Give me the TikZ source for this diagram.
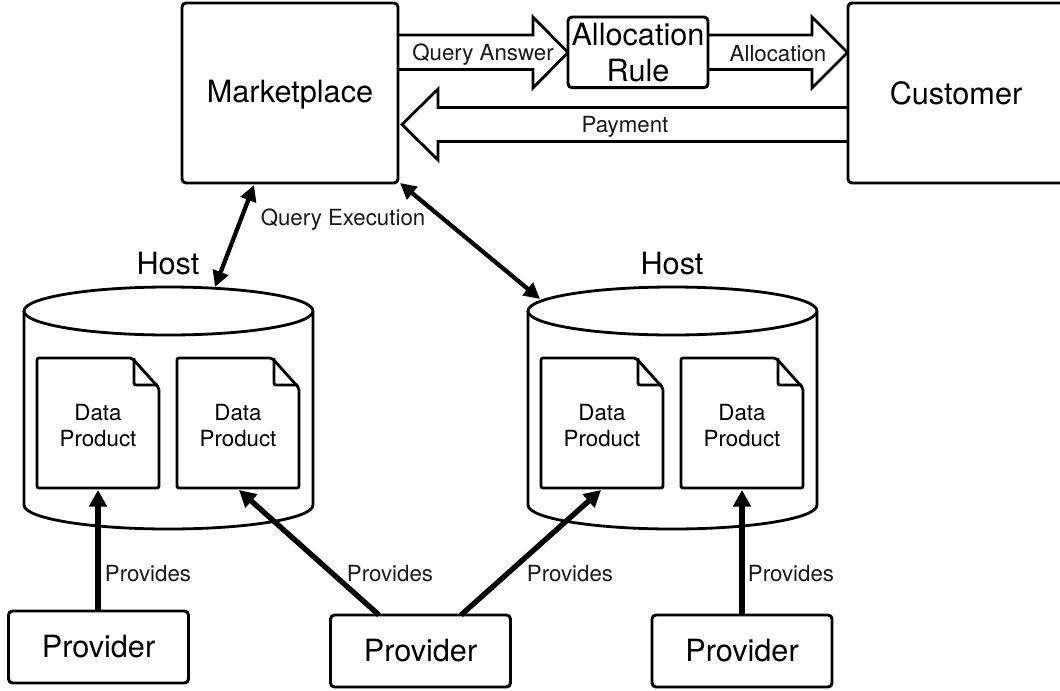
\documentclass[tikz,border=0pt]{standalone}
\usepackage{fontspec}
\setmainfont{TeX Gyre Heros}
\usetikzlibrary{arrows.meta,calc}
\tikzset{
  x=0.75pt,y=-0.75pt,
  line join=round,
  boxy/.style={draw=black,line width=2.2pt,rounded corners=3pt,fill=white,inner sep=0pt,outer sep=0pt,align=center,anchor=north west},
  lab/.style={font=\fontsize{16.7}{20}\selectfont,inner sep=0pt,text=black!90},
  big/.style={font=\fontsize{23}{27}\selectfont,inner sep=0pt},
  doclab/.style={font=\fontsize{16.7}{19.5}\selectfont,inner sep=0pt,align=center},
  blockarrow/.style={draw=black,line width=2.1pt,fill=white,miter limit=10},
  heavy/.style={line width=4pt,-{Triangle[length=12.5pt,width=13pt]}},
  medium/.style={line width=3.2pt,{Triangle[length=12pt,width=12pt]}-{Triangle[length=12pt,width=12pt]}},
  cyl/.style={draw=black,line width=2.1pt,fill=white},
  docpath/.style={draw=black,line width=2.1pt,fill=white},
}
\newcommand{\hostcyl}[2]{%
  \draw[cyl] (#1,311) -- (#1,505) arc[x radius=144.5,y radius=24,start angle=180,end angle=0] -- (#1+289,311);
  \draw[cyl] (#1+144.5,311) ellipse[x radius=144.5,y radius=24];
  \coordinate (#2) at (#1+144.5,311);
}
\newcommand{\docshape}[2]{%
  \draw[docpath,rounded corners=1.5pt] (#1,358) -- (#1+95,358) -- (#1+122,388) -- (#1+122,488) -- (#1,488) -- cycle;
  \draw[docpath,fill=none,rounded corners=1.5pt] (#1+97,358) -- (#1+97,385) -- (#1+121,385);
  \node[doclab] (#2) at (#1+61,426) {Data\\Product};
}
\begin{document}
\begin{tikzpicture}
\useasboundingbox (0,0) rectangle (1060,690);
% block arrows
\draw[blockarrow] (397.5,35) -- (533,35) -- (533,17) -- (568,52.5) -- (533,88) -- (533,69.5) -- (397.5,69.5);
\draw[blockarrow] (708,35) -- (812,35) -- (812,17) -- (847.5,52.5) -- (812,88) -- (812,69.5) -- (708,69.5);
\draw[blockarrow] (848,107.5) -- (438,107.5) -- (438,89) -- (402,124.5) -- (438,160) -- (438,141.5) -- (848,141.5);
% top boxes
\node[boxy,minimum width=162pt,minimum height=135pt] (market) at (182,3) {};
\node[big] (marketlab) at (290,95) {Marketplace};
\draw[draw=black,line width=2.2pt,rounded corners=3pt,fill=white] (1064,3) -- (848,3) -- (848,183) -- (1064,183);
\node[big] (custlab) at (956,93) {Customer};
\node[boxy,minimum width=105pt,minimum height=53pt] (rule) at (568,17) {};
\node[big,align=center] (rulelab) at (638,52.5) {Allocation\\Rule};
\node[lab] (qa) at (483,55) {Query Answer};
\node[lab] (al) at (778,54) {Allocation};
\node[lab] (pay) at (625,127) {Payment};
% hosts
\hostcyl{24}{hostA}
\hostcyl{528}{hostB}
\node[big] (hostAlab) at (168,264) {Host};
\node[big] (hostBlab) at (672,264) {Host};
\docshape{37}{da}
\docshape{177}{db}
\docshape{541}{dc}
\docshape{681}{dd}
% providers
\node[boxy,minimum width=135pt,minimum height=54pt] (p1) at (8.5,611) {};
\node[boxy,minimum width=135pt,minimum height=54pt] (p2) at (330.5,615) {};
\node[boxy,minimum width=135pt,minimum height=54pt] (p3) at (652,615) {};
\node[big] at ($(p1.center)+(0,0)$) {Provider};
\node[big] at ($(p2.center)+(0,0)$) {Provider};
\node[big] at ($(p3.center)+(0,0)$) {Provider};
% connectors
\coordinate (mS) at (254,185);
\coordinate (hA) at (215,287);
\coordinate (mE) at (400,183);
\coordinate (hB) at (540,299);
\draw[medium] (mS) -- (hA);
\draw[medium] (mE) -- (hB);
\node[lab] (qe) at (343,220) {Query Execution};
\coordinate (p1t) at (98,611);
\coordinate (p2l) at (379,615);
\coordinate (p2r) at (461,615);
\coordinate (p3t) at (742,615);
\coordinate (ta) at (98,490);
\coordinate (tb) at (239,490);
\coordinate (tc) at (601,490);
\coordinate (td) at (742,490);
\draw[heavy] (p1t) -- (ta);
\draw[heavy] (p2l) -- (tb);
\draw[heavy] (p2r) -- (tc);
\draw[heavy] (p3t) -- (td);
\node[lab] at (148,574) {Provides};
\node[lab] at (390,574) {Provides};
\node[lab] at (570,574) {Provides};
\node[lab] at (791,574) {Provides};
\end{tikzpicture}
\end{document}
